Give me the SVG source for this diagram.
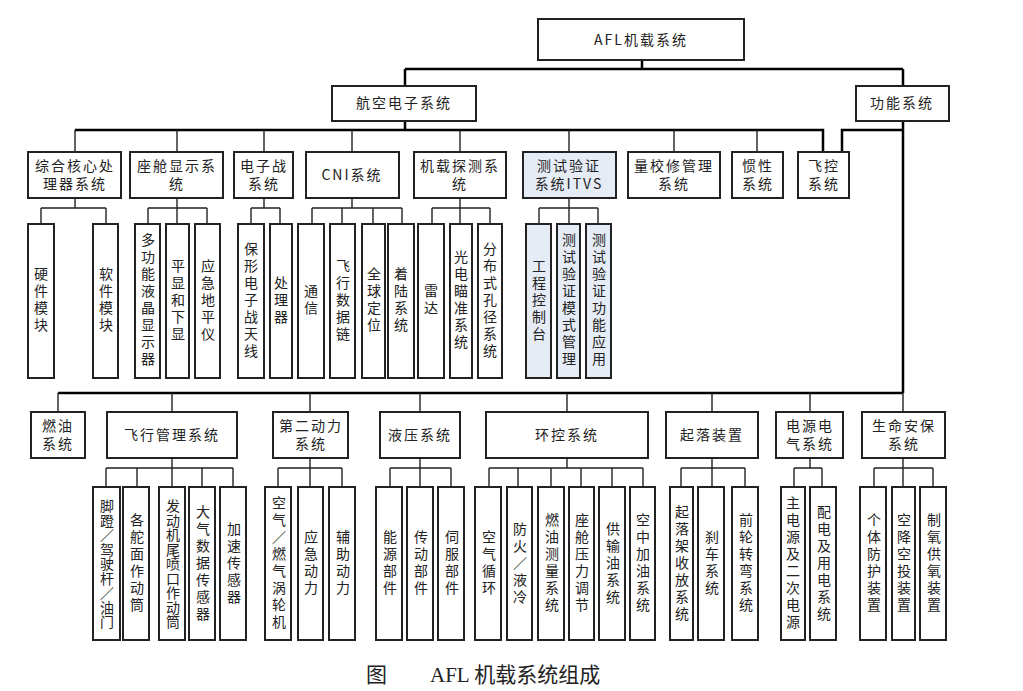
<svg xmlns="http://www.w3.org/2000/svg" width="1023" height="691" viewBox="0 0 1023 691">
<style>
rect{fill:#fff;stroke:#222;stroke-width:2}
.b rect{fill:#e6ecf6}
text{font-family:"Noto Sans CJK SC",sans-serif;font-size:14px;fill:#222;text-anchor:middle;letter-spacing:2px}
.v{writing-mode:vertical-rl;letter-spacing:3px}
.m{stroke:#000;stroke-width:2.5;fill:none}
.s{stroke:#222;stroke-width:1.4;fill:none}
.cap{font-family:"Liberation Serif","Noto Sans CJK SC",serif;font-size:21px;letter-spacing:0;text-anchor:start}
</style>
<rect x="0" y="0" width="1023" height="691" style="stroke:none"/>
<g id="connectors">
<path class="m" d="M642 60V69M405 69H903M405 69V86M903 69V86M405 121V130M75 130H823V152M903 121V393M58 393H903M842 152V130H903"/>
<path class="s" d="M75 130V152M177 130V152M264 130V152M352 130V152M460 130V152M569 130V152M674 130V152M757 130V152"/>
<path class="s" d="M75 198V208M41 208H106M41 208V224M106 208V224
M177 198V224M148 208H207M148 208V224M207 208V224
M264 198V208M251 208H280M251 208V224M280 208V224
M352 198V208M312 208H402M312 208V224M342 208V224M373 208V224M402 208V224
M460 198V224M432 208H490M432 208V224M490 208V224
M569 198V224M539 208H598M539 208V224M598 208V224"/>
<path class="s" d="M58 393V412M172 393V412M310 393V412M420 393V412M567 393V412M712 393V412M810 393V412M903 393V412
M172 458V487M106 468H233M106 468V487M137 468V487M202 468V487M233 468V487
M310 458V487M278 468H342M278 468V487M342 468V487
M420 458V468M390 468H451M390 468V487M451 468V487M420 468V487
M567 458V468M489 468H643M489 468V487M518 468V487M551 468V487M581 468V487M612 468V487M643 468V487
M712 458V487M681 468H745M681 468V487M745 468V487
M810 458V468M794 468H822M794 468V487M822 468V487
M903 458V487M874 468H933M874 468V487M933 468V487"/>
</g>
<g id="n_root"><rect x="538" y="19" width="206" height="41"/><text x="641" y="45">AFL机载系统</text></g>
<g id="n_avionics"><rect x="332" y="86" width="144" height="35"/><text x="404" y="108">航空电子系统</text></g>
<g id="n_func"><rect x="856" y="86" width="93" height="35"/><text x="902" y="108">功能系统</text></g>

<g id="n_ic"><rect x="28" y="152" width="93" height="46"/><text x="75" y="171">综合核心处</text><text x="75" y="189">理器系统</text></g>
<g id="n_cd"><rect x="130" y="152" width="93" height="46"/><text x="177" y="171">座舱显示系</text><text x="177" y="189">统</text></g>
<g id="n_ew"><rect x="234" y="152" width="59" height="46"/><text x="264" y="171">电子战</text><text x="264" y="189">系统</text></g>
<g id="n_cni"><rect x="306" y="152" width="93" height="46"/><text x="352" y="180">CNI系统</text></g>
<g id="n_det"><rect x="414" y="152" width="92" height="46"/><text x="460" y="171">机载探测系</text><text x="460" y="189">统</text></g>
<g id="n_itvs" class="b"><rect x="523" y="152" width="93" height="46"/><text x="569" y="171">测试验证</text><text x="569" y="189">系统ITVS</text></g>
<g id="n_cal"><rect x="628" y="152" width="92" height="46"/><text x="674" y="171">量校修管理</text><text x="674" y="189">系统</text></g>
<g id="n_ins"><rect x="732" y="152" width="51" height="46"/><text x="758" y="171">惯性</text><text x="758" y="189">系统</text></g>
<g id="n_fc"><rect x="798" y="152" width="51" height="46"/><text x="824" y="171">飞控</text><text x="824" y="189">系统</text></g>

<g id="l1"><rect x="28" y="224" width="26" height="154"/><text class="v" x="41" y="301">硬件模块</text></g>
<g id="l2"><rect x="93" y="224" width="25" height="154"/><text class="v" x="106" y="301">软件模块</text></g>
<g id="l3"><rect x="135" y="224" width="25" height="154"/><text class="v" x="148" y="301">多功能液晶显示器</text></g>
<g id="l4"><rect x="166" y="224" width="23" height="154"/><text class="v" x="178" y="301">平显和下显</text></g>
<g id="l5"><rect x="195" y="224" width="25" height="154"/><text class="v" x="208" y="301">应急地平仪</text></g>
<g id="l6"><rect x="238" y="224" width="26" height="154"/><text class="v" x="251" y="301">保形电子战天线</text></g>
<g id="l7"><rect x="270" y="224" width="22" height="154"/><text class="v" x="281" y="301">处理器</text></g>
<g id="l8"><rect x="298" y="224" width="26" height="154"/><text class="v" x="311" y="301">通信</text></g>
<g id="l9"><rect x="330" y="224" width="25" height="154"/><text class="v" x="343" y="301">飞行数据链</text></g>
<g id="l10"><rect x="362" y="224" width="23" height="154"/><text class="v" x="374" y="301">全球定位</text></g>
<g id="l11"><rect x="388" y="224" width="26" height="154"/><text class="v" x="401" y="301">着陆系统</text></g>
<g id="l12"><rect x="418" y="224" width="26" height="154"/><text class="v" x="431" y="301">雷达</text></g>
<g id="l13"><rect x="450" y="224" width="22" height="154"/><text class="v" x="461" y="301">光电瞄准系统</text></g>
<g id="l14"><rect x="478" y="224" width="24" height="154"/><text class="v" x="490" y="301">分布式孔径系统</text></g>
<g id="l15" class="b"><rect x="526" y="224" width="25" height="154"/><text class="v" x="539" y="301">工程控制台</text></g>
<g id="l16" class="b"><rect x="557" y="224" width="23" height="154"/><text class="v" x="569" y="301">测试验证模式管理</text></g>
<g id="l17" class="b"><rect x="586" y="224" width="25" height="154"/><text class="v" x="599" y="301">测试验证功能应用</text></g>

<g id="n_fuel"><rect x="31" y="412" width="54" height="46"/><text x="58" y="431">燃油</text><text x="58" y="449">系统</text></g>
<g id="n_fms"><rect x="107" y="412" width="130" height="46"/><text x="172" y="440">飞行管理系统</text></g>
<g id="n_apu"><rect x="273" y="412" width="75" height="46"/><text x="311" y="431">第二动力</text><text x="311" y="449">系统</text></g>
<g id="n_hyd"><rect x="380" y="412" width="80" height="46"/><text x="420" y="440">液压系统</text></g>
<g id="n_ecs"><rect x="486" y="412" width="162" height="46"/><text x="567" y="440">环控系统</text></g>
<g id="n_lg"><rect x="666" y="412" width="92" height="46"/><text x="712" y="440">起落装置</text></g>
<g id="n_pwr"><rect x="776" y="412" width="67" height="46"/><text x="810" y="431">电源电</text><text x="810" y="449">气系统</text></g>
<g id="n_life"><rect x="862" y="412" width="83" height="46"/><text x="904" y="431">生命安保</text><text x="904" y="449">系统</text></g>

<g id="b1"><rect x="93" y="487" width="27" height="153"/><text class="v" x="107" y="564" style="letter-spacing:0.5px">脚蹬／驾驶杆／油门</text></g>
<g id="b2"><rect x="123" y="487" width="26" height="153"/><text class="v" x="137" y="564">各舵面作动筒</text></g>
<g id="b3"><rect x="159" y="487" width="26" height="153"/><text class="v" x="173" y="564" style="letter-spacing:0.5px">发动机尾喷口作动筒</text></g>
<g id="b4"><rect x="189" y="487" width="26" height="153"/><text class="v" x="203" y="564">大气数据传感器</text></g>
<g id="b5"><rect x="220" y="487" width="26" height="153"/><text class="v" x="234" y="564">加速传感器</text></g>
<g id="b6"><rect x="265" y="487" width="26" height="153"/><text class="v" x="279" y="564">空气／燃气涡轮机</text></g>
<g id="b7"><rect x="298" y="487" width="25" height="153"/><text class="v" x="311" y="564">应急动力</text></g>
<g id="b8"><rect x="329" y="487" width="26" height="153"/><text class="v" x="343" y="564">辅助动力</text></g>
<g id="b9"><rect x="376" y="487" width="26" height="153"/><text class="v" x="390" y="564">能源部件</text></g>
<g id="b10"><rect x="407" y="487" width="26" height="153"/><text class="v" x="421" y="564">传动部件</text></g>
<g id="b11"><rect x="438" y="487" width="26" height="153"/><text class="v" x="452" y="564">伺服部件</text></g>
<g id="b12"><rect x="475" y="487" width="26" height="153"/><text class="v" x="489" y="564">空气循环</text></g>
<g id="b13"><rect x="507" y="487" width="25" height="153"/><text class="v" x="520" y="564">防火／液冷</text></g>
<g id="b14"><rect x="538" y="487" width="26" height="153"/><text class="v" x="552" y="564">燃油测量系统</text></g>
<g id="b15"><rect x="569" y="487" width="25" height="153"/><text class="v" x="582" y="564">座舱压力调节</text></g>
<g id="b16"><rect x="599" y="487" width="26" height="153"/><text class="v" x="613" y="564">供输油系统</text></g>
<g id="b17"><rect x="630" y="487" width="25" height="153"/><text class="v" x="643" y="564">空中加油系统</text></g>
<g id="b18"><rect x="670" y="487" width="23" height="153"/><text class="v" x="682" y="564">起落架收放系统</text></g>
<g id="b19"><rect x="698" y="487" width="26" height="153"/><text class="v" x="712" y="564">刹车系统</text></g>
<g id="b20"><rect x="732" y="487" width="26" height="153"/><text class="v" x="746" y="564">前轮转弯系统</text></g>
<g id="b21"><rect x="781" y="487" width="24" height="153"/><text class="v" x="793" y="564">主电源及二次电源</text></g>
<g id="b22"><rect x="810" y="487" width="26" height="153"/><text class="v" x="824" y="564">配电及用电系统</text></g>
<g id="b23"><rect x="860" y="487" width="26" height="153"/><text class="v" x="874" y="564">个体防护装置</text></g>
<g id="b24"><rect x="892" y="487" width="23" height="153"/><text class="v" x="904" y="564">空降空投装置</text></g>
<g id="b25"><rect x="920" y="487" width="26" height="153"/><text class="v" x="934" y="564">制氧供氧装置</text></g>

<text class="cap" x="366" y="682">图</text>
<text class="cap" x="430" y="682">AFL 机载系统组成</text>
</svg>
